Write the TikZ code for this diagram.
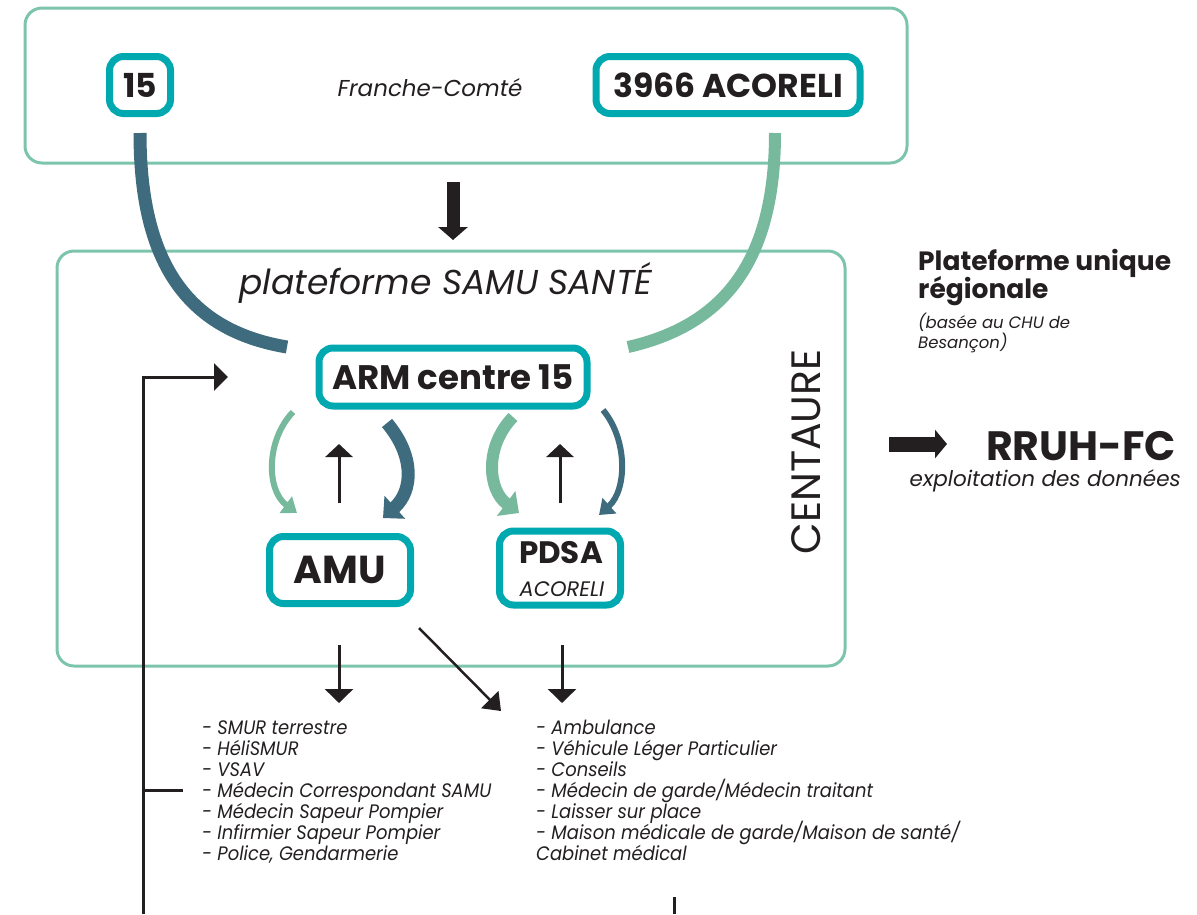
\documentclass[tikz,border=0pt]{standalone}
\usepackage{fontspec}
\setmainfont{Poppins}
\newfontfamily\condfont{Poppins}[FakeStretch=0.92]
\usetikzlibrary{arrows.meta}
\definecolor{teal}{HTML}{00A9B0}
\definecolor{frame}{HTML}{7DC4AC}
\definecolor{greenc}{HTML}{76B99C}
\definecolor{bluec}{HTML}{3E6B7E}
\definecolor{ink}{HTML}{231F20}
\tikzset{
  frameline/.style={draw=frame,line width=3pt,rounded corners=17pt},
  tealbox/.style={draw=teal,line width=7pt,rounded corners=14pt,fill=white,inner sep=0pt,text=ink},
  thinarrow/.style={draw=ink,line width=3pt,-{Triangle[width=27pt,length=13pt]}},
  listitem/.style={anchor=base west,inner sep=0pt,text=ink,font=\condfont\itshape\fontsize{19.5}{21}\selectfont},
}
\begin{document}
\begin{tikzpicture}[x=1pt,y=-1pt]
\useasboundingbox (0,0) rectangle (1197,914);
% frames
\draw[frameline] (25,8) rectangle (907,163);
\draw[frameline] (57,251) rectangle (845,666);
% big curves
\coordinate (c15) at (140,133);
\coordinate (c3966) at (775,133);
\coordinate (armL) at (287,347);
\coordinate (armR) at (628,347);
\draw[bluec,line width=13pt] (c15) .. controls (140,260) and (185,330) .. (armL);
\draw[greenc,line width=12pt] (c3966) .. controls (775,260) and (725,325) .. (armR);
% top nodes
\node[tealbox,minimum width=61pt,minimum height=57pt,font=\bfseries\fontsize{33}{35}\selectfont] (n15) at (140,85) {15};
\node[tealbox,minimum width=264pt,minimum height=57pt,font=\bfseries\fontsize{33}{35}\selectfont] (n3966) at (728,85) {3966 ACORELI};
\node[text=ink,font=\itshape\fontsize{23}{25}\selectfont] (fc) at (430,88) {Franche-Comté};
% big down arrow
\coordinate (bdA) at (453,182);
\coordinate (bdB) at (453,240);
\draw[ink,line width=13pt,-{Triangle[width=29pt,length=13pt]}] (bdA) -- (bdB);
% platform title
\node[text=ink,font=\itshape\fontsize{34.5}{36}\selectfont] (plat) at (446,283) {plateforme SAMU SANTÉ};
% ARM
\node[tealbox,minimum width=268pt,minimum height=58pt,font=\bfseries\fontsize{34}{36}\selectfont] (arm) at (453,377) {ARM centre 15};
% AMU / PDSA
\node[tealbox,minimum width=141pt,minimum height=67pt,font=\bfseries\fontsize{39}{41}\selectfont] (amu) at (340,570) {AMU};
\node[tealbox,minimum width=121pt,minimum height=74pt] (pdsa) at (560,568) {};
\node[text=ink,font=\bfseries\fontsize{31}{33}\selectfont] (pdsat) at (561,553) {PDSA};
\node[text=ink,font=\itshape\fontsize{21}{23}\selectfont] (pdsaa) at (562,589) {ACORELI};
% small curved arrows
\draw[greenc,line width=6pt,-{Triangle[width=20pt,length=14pt]}] (293,412) .. controls (266,440) and (266,490) .. (297,513);
\draw[bluec,line width=13pt,-{Triangle[width=30pt,length=16pt]}] (387,423) .. controls (414,455) and (414,490) .. (383,518);
\draw[greenc,line width=12pt,-{Triangle[width=30pt,length=16pt]}] (513,417) .. controls (484,447) and (488,490) .. (519,513);
\draw[bluec,line width=6pt,-{Triangle[width=20pt,length=14pt]}] (603,410) .. controls (628,440) and (627,490) .. (599,515);
\coordinate (u1a) at (339,503); \coordinate (u1b) at (339,444);
\coordinate (u2a) at (560,503); \coordinate (u2b) at (560,444);
\draw[thinarrow] (u1a) -- (u1b);
\draw[thinarrow] (u2a) -- (u2b);
% CENTAURE
\node[rotate=90,text=ink,font=\fontsize{41}{43}\selectfont] (cent) at (806,452) {CENTAURE};
% right texts
\node[anchor=base west,inner sep=0pt,text=ink,font=\bfseries\fontsize{26.5}{28}\selectfont] (pu1) at (918,270) {Plateforme unique};
\node[anchor=base west,inner sep=0pt,text=ink,font=\bfseries\fontsize{26.5}{28}\selectfont] (pu2) at (918,298) {régionale};
\node[anchor=base west,inner sep=0pt,text=ink,font=\itshape\fontsize{16.5}{18}\selectfont] (pu3) at (918,328) {(basée au CHU de};
\node[anchor=base west,inner sep=0pt,text=ink,font=\itshape\fontsize{16.5}{18}\selectfont] (pu4) at (918,348) {Besançon)};
\coordinate (raA) at (889,444);
\coordinate (raB) at (947,444);
\draw[ink,line width=15pt,-{Triangle[width=28pt,length=12pt]}] (raA) -- (raB);
\node[anchor=base east,inner sep=0pt,text=ink,font=\bfseries\fontsize{41}{43}\selectfont] (rruh) at (1176,460) {RRUH-FC};
\node[anchor=base east,inner sep=0pt,text=ink,font=\itshape\fontsize{21.5}{23}\selectfont] (expl) at (1181,486) {exploitation des données};
% left feedback line
\coordinate (fbBot) at (143,914);
\coordinate (fbCorner) at (143,377);
\coordinate (fbTip) at (228,377);
\draw[ink,line width=3pt,-{Triangle[width=27pt,length=14pt]}] (fbBot) -- (fbCorner) -- (fbTip);
\coordinate (tickA) at (143,790);
\coordinate (tickB) at (183,790);
\draw[ink,line width=3pt] (tickA) -- (tickB);
\coordinate (v2a) at (674,897);
\coordinate (v2b) at (674,914);
\draw[ink,line width=3pt] (v2a) -- (v2b);
% down arrows
\coordinate (d1a) at (339,645); \coordinate (d1b) at (339,703);
\coordinate (d2a) at (562,645); \coordinate (d2b) at (562,703);
\coordinate (dga) at (419,628); \coordinate (dgb) at (501,711);
\draw[thinarrow,-{Triangle[width=28pt,length=14pt]}] (d1a) -- (d1b);
\draw[thinarrow,-{Triangle[width=28pt,length=14pt]}] (d2a) -- (d2b);
\draw[ink,line width=2.5pt,-{Triangle[width=24pt,length=16pt]}] (dga) -- (dgb);
% lists
\node[listitem] (l1) at (202,734) {- SMUR terrestre};
\node[listitem] (l2) at (202,755) {- HéliSMUR};
\node[listitem] (l3) at (202,776) {- VSAV};
\node[listitem] (l4) at (202,797) {- Médecin Correspondant SAMU};
\node[listitem] (l5) at (202,818) {- Médecin Sapeur Pompier};
\node[listitem] (l6) at (202,839) {- Infirmier Sapeur Pompier};
\node[listitem] (l7) at (202,860) {- Police, Gendarmerie};
\node[listitem] (r1) at (536,734) {- Ambulance};
\node[listitem] (r2) at (536,755) {- Véhicule Léger Particulier};
\node[listitem] (r3) at (536,776) {- Conseils};
\node[listitem] (r4) at (536,797) {- Médecin de garde/Médecin traitant};
\node[listitem] (r5) at (536,818) {- Laisser sur place};
\node[listitem] (r6) at (536,839) {- Maison médicale de garde/Maison de santé/};
\node[listitem] (r7) at (536,860) {Cabinet médical};
\end{tikzpicture}
\end{document}
